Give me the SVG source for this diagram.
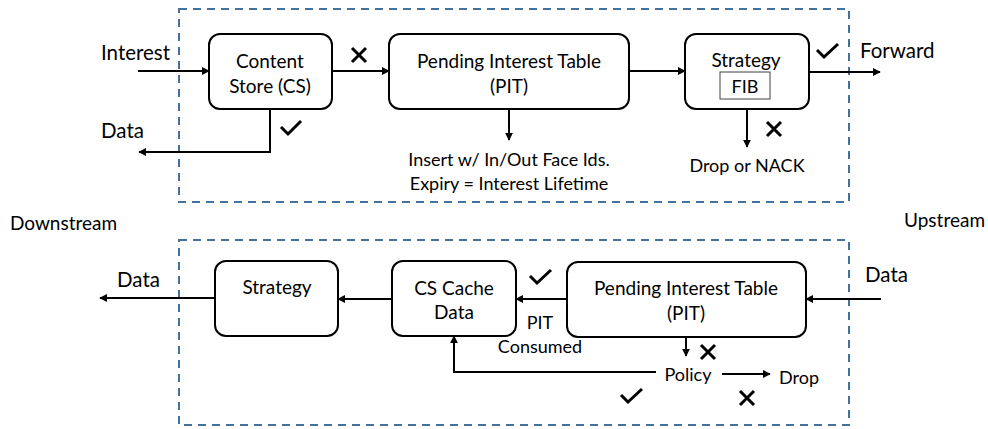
<svg xmlns="http://www.w3.org/2000/svg" width="988" height="429" viewBox="0 0 988 429">
<style>
.frame{fill:none;stroke:#41719C;stroke-width:2;stroke-dasharray:8,6}
.box{fill:#fff;stroke:#000;stroke-width:2}
.sub{fill:#fff;stroke:#404040;stroke-width:1}
.t{font-family:Lato,"Liberation Sans",sans-serif;font-size:19px;fill:#000}
.big{font-size:20.5px}
.sm{font-size:18px}
.c{text-anchor:middle}
.ln{fill:none;stroke:#000;stroke-width:2}
.arr{fill:none;stroke:#000;stroke-width:2;marker-end:url(#ah)}
.mk{fill:none;stroke:#000;stroke-width:3;stroke-linecap:butt}
</style>
<defs>
<marker id="ah" viewBox="0 0 10 10" refX="9" refY="5" markerWidth="4" markerHeight="4" orient="auto" markerUnits="strokeWidth">
<path d="M0,0 L10,5 L0,10 z" fill="#000"/>
</marker>
</defs>
<rect width="988" height="429" fill="#fff"/>
<rect class="frame" x="179" y="9" width="670" height="193"/>
<rect class="frame" x="179" y="240" width="670" height="185"/>

<g id="connectors">
<line class="arr" x1="138" y1="71" x2="209" y2="71"/>
<polyline class="arr" points="270,109 270,152 139,152"/>
<line class="arr" x1="332" y1="71" x2="389" y2="71"/>
<line class="arr" x1="509" y1="109" x2="509" y2="140"/>
<line class="arr" x1="629" y1="71" x2="685" y2="71"/>
<line class="arr" x1="809" y1="72" x2="880" y2="72"/>
<line class="arr" x1="747" y1="109" x2="747" y2="147"/>
<line class="arr" x1="881" y1="299" x2="806" y2="299"/>
<line class="arr" x1="567" y1="299" x2="516" y2="299"/>
<line class="arr" x1="392" y1="299" x2="338" y2="299"/>
<line class="arr" x1="215" y1="298" x2="100" y2="298"/>
<line class="arr" x1="686" y1="337" x2="686" y2="356"/>
<polyline class="arr" points="656,372 454,372 454,336"/>
<line class="arr" x1="722" y1="374" x2="770" y2="374"/>
</g>

<g id="content-store">
<rect class="box" x="209" y="34" width="123" height="75" rx="11"/>
<text class="t c" x="270" y="68">Content</text>
<text class="t c" x="270" y="93">Store (CS)</text>
</g>
<g id="pit-top">
<rect class="box" x="389" y="34" width="240" height="75" rx="11"/>
<text class="t c" x="509" y="68">Pending Interest Table</text>
<text class="t c" x="509" y="93">(PIT)</text>
</g>
<g id="strategy-top">
<rect class="box" x="685" y="34" width="124" height="75" rx="11"/>
<text class="t c" x="746" y="67">Strategy</text>
<rect class="sub" x="720" y="72" width="50" height="27"/>
<text class="t c sm" x="745" y="93">FIB</text>
</g>
<g id="strategy-bottom">
<rect class="box" x="215" y="261" width="123" height="75" rx="11"/>
<text class="t c" x="277" y="294">Strategy</text>
</g>
<g id="cs-cache">
<rect class="box" x="392" y="261" width="124" height="75" rx="11"/>
<text class="t c" x="454" y="295">CS Cache</text>
<text class="t c" x="454" y="319">Data</text>
</g>
<g id="pit-bottom">
<rect class="box" x="567" y="262" width="239" height="75" rx="11"/>
<text class="t c" x="686" y="295">Pending Interest Table</text>
<text class="t c" x="686" y="320">(PIT)</text>
</g>

<g id="labels">
<text class="t big" x="101" y="60">Interest</text>
<text class="t big" x="101" y="138">Data</text>
<text class="t c sm" x="509" y="166">Insert w/ In/Out Face Ids.</text>
<text class="t c sm" x="509" y="190">Expiry = Interest Lifetime</text>
<text class="t big" x="860" y="58">Forward</text>
<text class="t c sm" x="747" y="172">Drop or NACK</text>
<text class="t" x="10" y="230">Downstream</text>
<text class="t" x="904" y="227">Upstream</text>
<text class="t big" x="117" y="287">Data</text>
<text class="t big" x="865" y="282">Data</text>
<text class="t c sm" x="540" y="329">PIT</text>
<text class="t c sm" x="540" y="353">Consumed</text>
<text class="t c sm" x="688" y="381">Policy</text>
<text class="t sm" x="779" y="384">Drop</text>
</g>

<g id="marks">
<path class="mk" d="M281,127 L288,134 L301,121"/>
<path class="mk" d="M817,50 L824,57 L838,44"/>
<path class="mk" d="M530,276 L537,283 L551,270"/>
<path class="mk" d="M621,395 L628,402 L642,389"/>
<path class="mk" d="M352,48 L366,62 M366,48 L352,62"/>
<path class="mk" d="M767,122 L781,136 M781,122 L767,136"/>
<path class="mk" d="M701,345 L715,359 M715,345 L701,359"/>
<path class="mk" d="M740,391 L754,405 M754,391 L740,405"/>
</g>
</svg>
